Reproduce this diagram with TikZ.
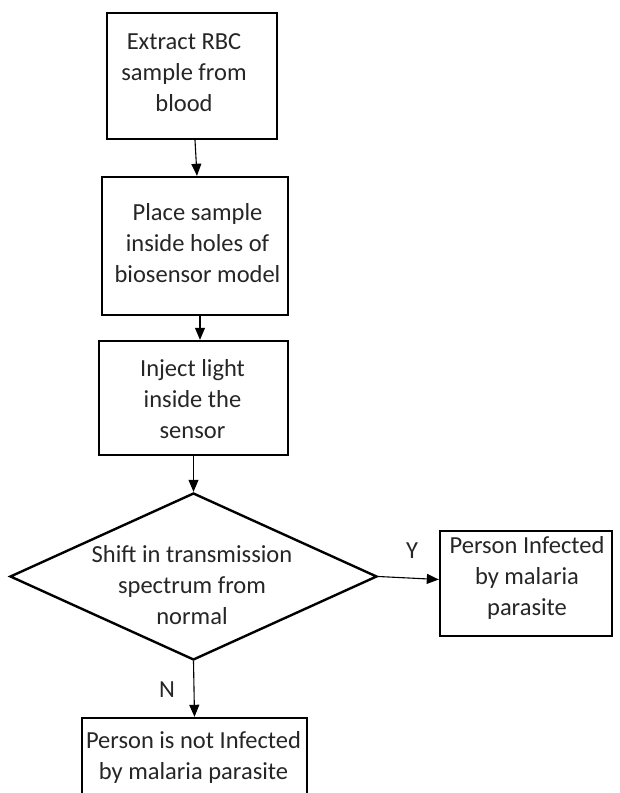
\documentclass[tikz,border=0pt]{standalone}
\usepackage{fontspec}
\setmainfont{Carlito}
\usetikzlibrary{shapes.geometric,arrows.meta,calc}
\begin{document}
\begin{tikzpicture}[x=1pt,y=1pt,
  box/.style={draw, line width=2.4pt, inner sep=0pt},
  txt/.style={align=center, font=\fontsize{24.5}{31}\selectfont, text=black!85, inner sep=0pt},
  arr/.style={line width=1.1pt, -{Triangle[length=12pt,width=10pt]}},
  lbl/.style={font=\fontsize{24.5}{31}\selectfont, text=black!85, inner sep=0pt}]
\useasboundingbox (0,0) rectangle (619,793);
\clip (0,0) rectangle (619,793);
\fill[white] (0,0) rectangle (619,793);
% boxes
\node[box, minimum width=170pt, minimum height=126pt] (b1) at (192,717) {};
\node[txt] (t1) at (184,720) {Extract RBC\\sample from\\blood};
\node[box, minimum width=186pt, minimum height=138pt] (b2) at (195,547) {};
\node[txt] (t2) at (197.5,550) {Place sample\\inside holes of\\biosensor model};
\node[box, minimum width=189pt, minimum height=114pt] (b3) at (193.5,395) {};
\node[txt] (t3) at (192.5,394) {Inject light\\inside the\\sensor};
% decision
\node[diamond, draw, line width=2.4pt, minimum width=367pt, minimum height=167pt, inner sep=0pt] (dec) at (193.5,216.5) {};
\node[txt] (t4) at (192,208) {Shift in transmission\\spectrum from\\normal};
% outcomes
\node[box, minimum width=172pt, minimum height=105pt] (yes) at (526,209.5) {};
\node[txt] (t5) at (527,215) {Person Infected\\by malaria\\parasite};
\node[box, minimum width=225pt, minimum height=100pt] (no) at (194.5,25) {};
\node[txt] (t6) at (193.5,36) {Person is not Infected\\by malaria parasite};
% connectors
\draw[arr] ($(b1.south)+(3,0)$) -- ($(b2.north)+(2,0)$);
\draw[arr] ($(b2.south)+(5,0)$) -- ($(b3.north)+(6.5,0)$);
\draw[arr] (b3.south) -- (dec.north);
\draw[arr] (dec.east) -- ($(yes.west)+(0,4)$);
\draw[arr] (dec.south) -- (no.north);
\node[lbl] (ly) at (412,242) {Y};
\node[lbl] (ln) at (167,103) {N};
\end{tikzpicture}
\end{document}
